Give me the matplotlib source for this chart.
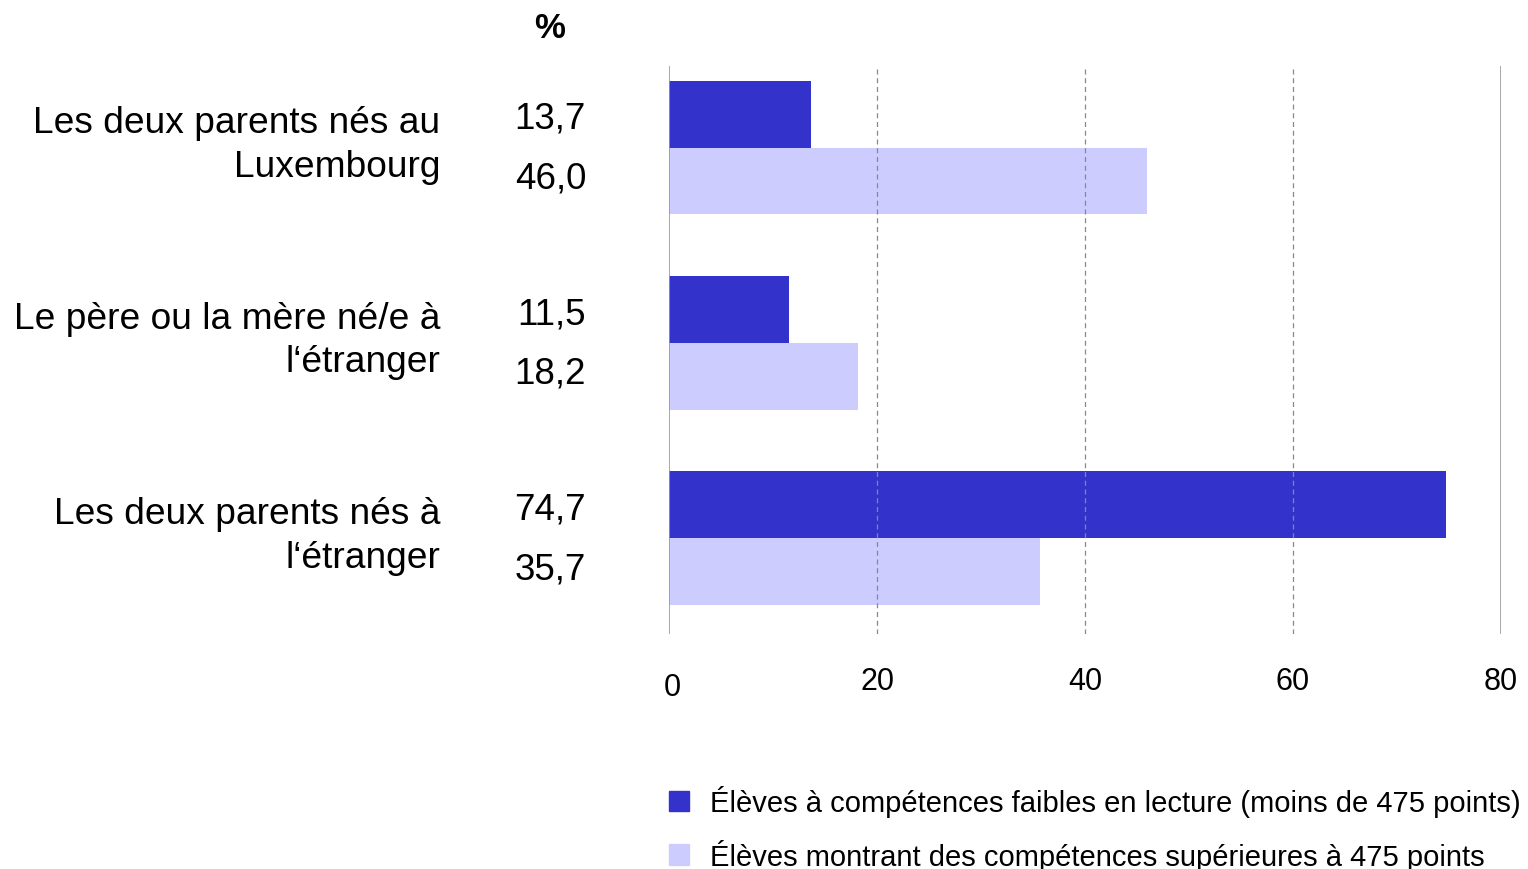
import matplotlib.pyplot as plt
import matplotlib.transforms as mtransforms
from matplotlib.patches import Patch

plt.rcParams['font.family'] = ['Liberation Sans', 'DejaVu Sans']

categories = ["Les deux parents nés au\nLuxembourg",
              "Le père ou la mère né/e à\nl‘étranger",
              "Les deux parents nés à\nl‘étranger"]
faibles = [13.7, 11.5, 74.7]
superieures = [46.0, 18.2, 35.7]
series_names = ["Élèves à compétences faibles en lecture (moins de 475 points)",
                "Élèves montrant des compétences supérieures à 475 points"]
xticks = [0, 20, 40, 60, 80]

dark = "#3333CC"
light = "#CCCCFF"

fig = plt.figure(figsize=(15.28, 8.70), dpi=100)
ax = fig.add_axes([669 / 1528, 1 - 635 / 870, 832 / 1528, 568 / 870])

h = 0.342
ypos = list(range(len(categories)))
ax.barh([y - h / 2 for y in ypos], faibles, height=h, color=dark, zorder=1)
ax.barh([y + h / 2 for y in ypos], superieures, height=h, color=light, zorder=1)

ax.set_xlim(0, 80)
ax.set_ylim(2.49, -0.418)
for x in [20, 40, 60]:
    ax.axvline(x, color="#888888", linestyle=(0, (4, 3)), linewidth=0.9, zorder=2)
ax.axvline(0, color="#999999", linewidth=1.2, zorder=3)
ax.axvline(80, color="#999999", linewidth=1.2, zorder=3)
for s in ax.spines.values():
    s.set_visible(False)

ax.set_yticks([])
ax.set_xticks(xticks)
ax.set_xticklabels([str(t) for t in xticks])
ax.tick_params(axis="x", length=0, pad=23, labelsize=22)

# category labels and values on the left
trans = mtransforms.blended_transform_factory(fig.transFigure, ax.transData)
for y, cat, a, b in zip(ypos, categories, faibles, superieures):
    ax.text(440 / 1528, y - 0.015, cat, transform=trans, ha="right", va="center",
            fontsize=26.7, linespacing=1.32)
    ax.text(586 / 1528, y - 0.15, f"{a:.1f}".replace(".", ","), transform=trans,
            ha="right", va="center", fontsize=26.5)
    ax.text(586 / 1528, y + 0.155, f"{b:.1f}".replace(".", ","), transform=trans,
            ha="right", va="center", fontsize=26.5)

fig.text(550 / 1528, 1 - 29 / 870, "%", ha="center", va="center",
         fontsize=25, fontweight="bold")

handles = [Patch(color=dark), Patch(color=light)]
fig.legend(handles, series_names, loc="upper left",
           bbox_to_anchor=(669 / 1528, 1 - 786 / 870), frameon=False,
           fontsize=21, handlelength=0.7, handleheight=0.7,
           handletextpad=0.72, labelspacing=0.75, borderpad=0, borderaxespad=0)

lab0 = ax.get_xticklabels()[0]
lab0.set_transform(lab0.get_transform() +
                   mtransforms.ScaledTranslation(3 / 100, -6 / 100, fig.dpi_scale_trans))

fig.savefig("out.png", dpi=100)
